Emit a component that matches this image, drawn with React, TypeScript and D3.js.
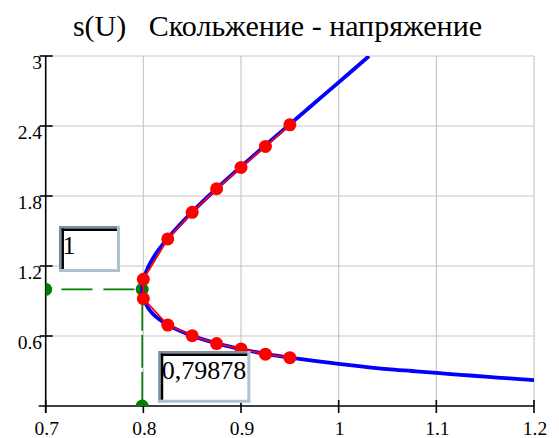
import React from "react";
import * as d3 from "d3";

const title = "s(U)   Скольжение - напряжение";
const xTicks = [0.7, 0.8, 0.9, 1.0, 1.1, 1.2];
const xTickLabels = ["0.7", "0.8", "0.9", "1", "1.1", "1.2"];
const yTicks = [0.6, 1.2, 1.8, 2.4, 3.0];
const yTickLabels = ["0.6", "1.2", "1.8", "2.4", "3"];

// blue curve, ordered along the curve (U, s)
const curveU = [1.2, 1.175, 1.15, 1.125, 1.1, 1.075, 1.05, 1.025, 1.0, 0.975, 0.95, 0.925, 0.9, 0.875, 0.85, 0.825, 0.815, 0.81, 0.805, 0.8, 0.7993, 0.7988, 0.7993, 0.8, 0.805, 0.81, 0.815, 0.825, 0.85, 0.875, 0.9, 0.925, 0.95, 0.975, 1.0, 1.025, 1.031];
const curveS = [0.221, 0.236, 0.252, 0.267, 0.284, 0.3, 0.316, 0.338, 0.362, 0.386, 0.414, 0.447, 0.487, 0.537, 0.601, 0.695, 0.752, 0.788, 0.838, 0.924, 0.95, 1.0, 1.05, 1.082, 1.194, 1.268, 1.331, 1.438, 1.664, 1.864, 2.052, 2.235, 2.415, 2.595, 2.774, 2.955, 3.0];

// red markers
const markU = [0.95, 0.925, 0.9, 0.875, 0.85, 0.825, 0.8, 0.8, 0.825, 0.85, 0.875, 0.9, 0.925, 0.95];
const markS = [2.41, 2.225, 2.045, 1.862, 1.66, 1.432, 1.086, 0.92, 0.694, 0.602, 0.535, 0.489, 0.444, 0.414];

// marker cursor
const cursorU = 0.79878;
const cursorS = 1;
const cursorULabel = "0,79878";
const cursorSLabel = "1";

const W = 559;
const H = 438;
const xMin = 0.7, xMax = 1.2, yMin = 0, yMax = 3;
const SERIF = { fontFamily: "Liberation Serif, Tinos, Times New Roman, serif" };

function Box({ x, y, w, h, text }: { x: number; y: number; w: number; h: number; text: string }) {
  return (
    <g>
      <rect x={x} y={y} width={w} height={h} fill="#ffffff" />
      <line x1={x} y1={y + 1.2} x2={x + w} y2={y + 1.2} stroke="#7890a1" strokeWidth={2.5} />
      <line x1={x + 1.2} y1={y} x2={x + 1.2} y2={y + h} stroke="#7890a1" strokeWidth={2.5} />
      <line x1={x + w - 1.5} y1={y} x2={x + w - 1.5} y2={y + h} stroke="#adc2cf" strokeWidth={3} />
      <line x1={x} y1={y + h - 1.5} x2={x + w} y2={y + h - 1.5} stroke="#adc2cf" strokeWidth={3} />
      <line x1={x + 2.5} y1={y + 3.7} x2={x + w - 3} y2={y + 3.7} stroke="#000" strokeWidth={2.5} />
      <line x1={x + 3.7} y1={y + 2.5} x2={x + 3.7} y2={y + h - 3} stroke="#000" strokeWidth={2.5} />
      <text x={x + 3.5} y={y + 28} fontFamily="Liberation Serif" fontSize={26} style={SERIF}>
        {text}
      </text>
    </g>
  );
}

export default function App() {
  const x = d3.scaleLinear().domain([xMin, xMax]).range([45.7, 534]);
  const y = d3.scaleLinear().domain([yMin, yMax]).range([406, 56]);

  const blue = curveU.map((u, i) => [u, curveS[i]] as [number, number]);
  const red = markU.map((u, i) => [u, markS[i]] as [number, number]);

  const blueLine = d3
    .line<[number, number]>()
    .x((d) => x(d[0]))
    .y((d) => y(d[1]))
    .curve(d3.curveCatmullRom.alpha(0.5));
  const redLine = d3
    .line<[number, number]>()
    .x((d) => x(d[0]))
    .y((d) => y(d[1]));

  const x0 = x(xMin), x1 = x(xMax), y0 = y(yMin), y1 = y(yMax);

  return (
    <svg width={W} height={H} style={{ position: "absolute", left: 0, top: 0, background: "#fff" }}>
      <style>{`svg text { font-family: "Liberation Serif", Tinos, "Times New Roman", serif !important; }`}</style>
      <defs>
        <clipPath id="plot">
          <rect x={x0} y={y1} width={x1 - x0} height={y0 - y1} />
        </clipPath>
      </defs>
      <text
        x={277.5}
        y={36}
        textAnchor="middle"
        fontFamily="Liberation Serif"
        fontSize={30}
        style={{ ...SERIF, whiteSpace: "pre" }}
      >
        {title}
      </text>

      {/* grid */}
      {xTicks.slice(1).map((t) => (
        <line key={"gx" + t} x1={x(t)} x2={x(t)} y1={y1} y2={y0} stroke="#c8c8c8" strokeWidth={1.2} />
      ))}
      {yTicks.map((t) => (
        <line key={"gy" + t} x1={x0} x2={x1} y1={y(t)} y2={y(t)} stroke="#c8c8c8" strokeWidth={1.2} />
      ))}

      {/* axes */}
      <line x1={x0 - 7} x2={x1} y1={y0} y2={y0} stroke="#000" strokeWidth={1.6} />
      <line x1={x0} x2={x0} y1={y1} y2={y0 + 7} stroke="#000" strokeWidth={1.6} />
      {xTicks.map((t) => (
        <line key={"tx" + t} x1={x(t)} x2={x(t)} y1={y0 - 6} y2={y0 + 7} stroke="#000" strokeWidth={1.6} />
      ))}
      {yTicks.map((t) => (
        <line key={"ty" + t} x1={x0 - 6} x2={x0 + 7} y1={y(t)} y2={y(t)} stroke="#000" strokeWidth={1.6} />
      ))}
      {xTicks.map((t, i) => (
        <text key={"lx" + t} x={x(t) + 1} y={435} textAnchor="middle" fontFamily="Liberation Serif" fontSize={19.5} style={SERIF}>
          {xTickLabels[i]}
        </text>
      ))}
      {yTicks.map((t, i) => (
        <text key={"ly" + t} x={42} y={y(t) + 12.5} textAnchor="end" fontFamily="Liberation Serif" fontSize={19.5} style={SERIF}>
          {yTickLabels[i]}
        </text>
      ))}

      <g clipPath="url(#plot)">
        {/* green cursor */}
        <line
          x1={x0}
          x2={x(cursorU)}
          y1={y(cursorS)}
          y2={y(cursorS)}
          stroke="#008000"
          strokeWidth={1.6}
          strokeDasharray="31 11"
          strokeDashoffset={26.3}
        />
        <line
          x1={x(cursorU)}
          x2={x(cursorU)}
          y1={y(cursorS)}
          y2={y0}
          stroke="#008000"
          strokeWidth={1.6}
          strokeDasharray="33 4"
          strokeDashoffset={28.7}
        />
        <circle cx={x0} cy={y(cursorS)} r={6.5} fill="#008000" />
        <circle cx={x(cursorU)} cy={y(cursorS)} r={6.5} fill="#008000" />
        <circle cx={x(cursorU)} cy={y0} r={6.5} fill="#008000" />

        <path d={blueLine(blue) || ""} fill="none" stroke="#0000ff" strokeWidth={3.8} strokeLinejoin="round" />
        <path d={redLine(red) || ""} fill="none" stroke="#ff0000" strokeWidth={1.8} />
        {red.map((d, i) => (
          <circle key={"m" + i} cx={x(d[0])} cy={y(d[1])} r={6.5} fill="#ff0000" />
        ))}
      </g>

      <Box x={59} y={226} w={61} h={46} text={cursorSLabel} />
      <Box x={158.3} y={351} w={92} h={51.7} text={cursorULabel} />
    </svg>
  );
}
